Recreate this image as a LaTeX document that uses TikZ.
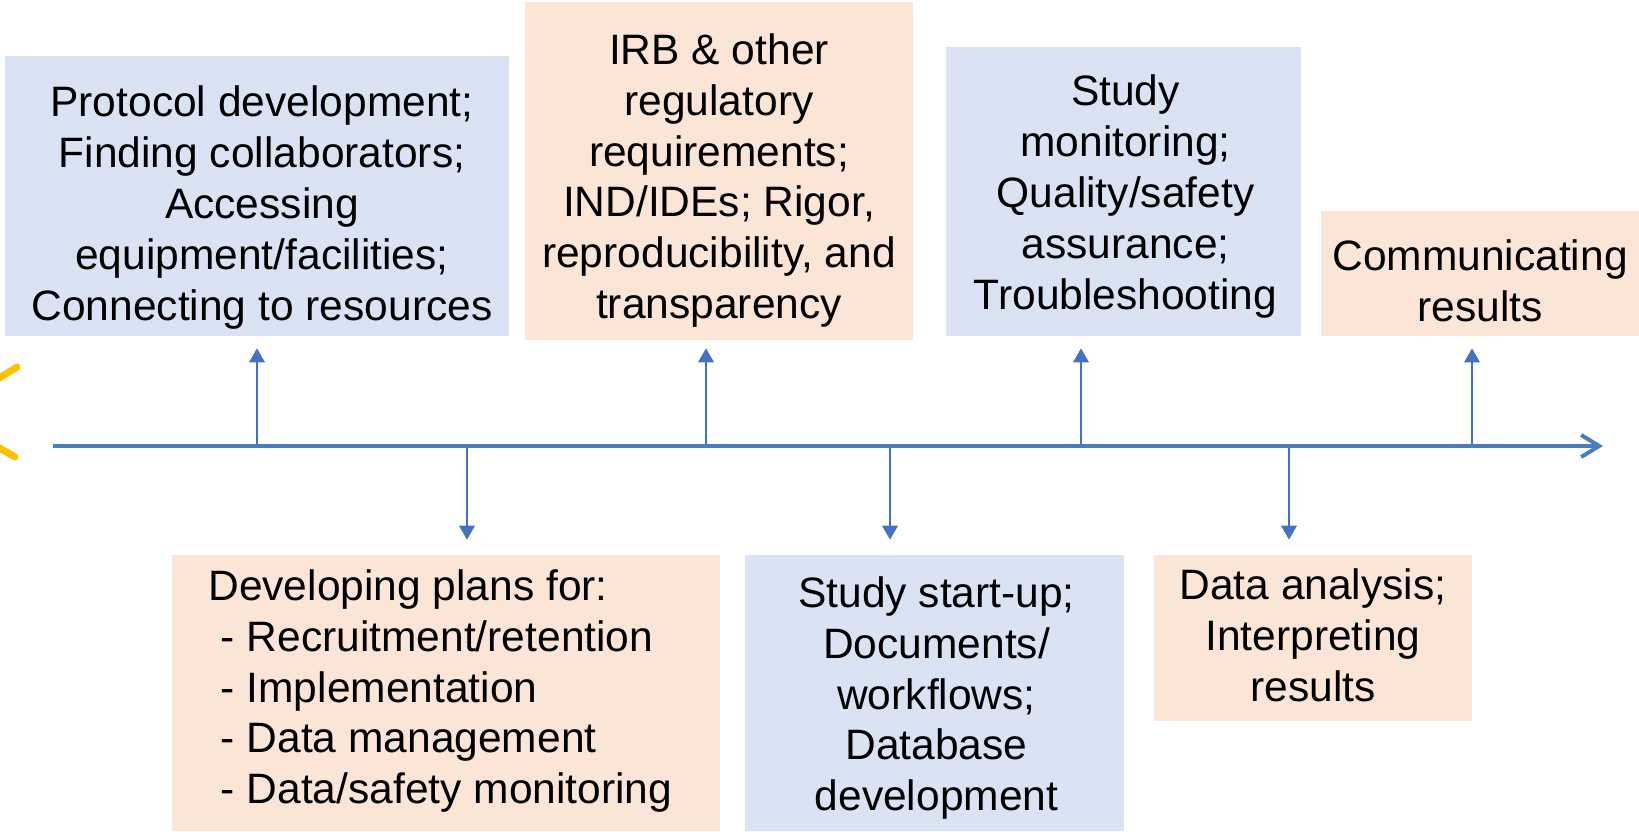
\documentclass[tikz,border=0pt]{standalone}
\usepackage{fontspec}
\setmainfont{Liberation Sans}
\usetikzlibrary{arrows.meta}

\definecolor{boxblue}{HTML}{DAE3F3}
\definecolor{boxpeach}{HTML}{FBE5D6}
\definecolor{arrowblue}{HTML}{4472C4}
\definecolor{lineblue}{HTML}{4A7EBB}
\definecolor{sunyellow}{HTML}{FFC000}

\tikzset{
  box/.style={inner sep=0pt},
  stage/.style={inner sep=0pt,align=center,text=black,font=\fontsize{24.2}{29}\selectfont},
  tick/.style={arrowblue,line width=0.04cm}
}

\begin{document}
\begin{tikzpicture}[x=0.02cm,y=-0.02cm,>={Triangle[length=0.28cm,width=0.31cm]}]

      \useasboundingbox (0,0) rectangle (1639,835);

      % bits of a sun at the left edge
      \draw[sunyellow,line width=0.14cm,line cap=round] (-4,380) -- (17,367);
      \draw[sunyellow,line width=0.14cm,line cap=round] (-4,446) -- (15,457);

      % boxes above the line
      \node[box,fill=boxblue,minimum width=10.08cm,minimum height=5.6cm] (prot) at (257,196){};
      \node[box,fill=boxpeach,minimum width=7.76cm,minimum height=6.76cm] (irb) at (719,171){};
      \node[box,fill=boxblue,minimum width=7.1cm,minimum height=5.78cm] (mon) at (1123.5,191.5){};
      \node[box,fill=boxpeach,minimum width=6.36cm,minimum height=2.5cm] (comm) at (1480,273.5){};

      \node[stage] (prot-t) at ([xshift=0.1cm,yshift=-0.23cm]prot.center){Protocol development;\\Finding collaborators;\\Accessing\\equipment/facilities;\\Connecting to resources};
      \node[stage] (irb-t) at ([yshift=-0.19cm]irb.center){IRB \& other\\regulatory\\requirements;\\IND/IDEs; Rigor,\\reproducibility, and\\transparency};
      \node[stage] (mon-t) at ([xshift=0.04cm,yshift=-0.1cm]mon.center){Study\\monitoring;\\Quality/safety\\assurance;\\Troubleshooting};
      \node[stage] (comm-t) at ([yshift=-0.15cm]comm.center){Communicating\\results};

      % boxes below the line
      \node[box,fill=boxpeach,minimum width=10.96cm,minimum height=5.52cm] (plan) at (446,693){};
      \node[box,fill=boxblue,minimum width=7.58cm,minimum height=5.52cm] (start) at (934.5,693){};
      \node[box,fill=boxpeach,minimum width=6.36cm,minimum height=3.32cm] (anal) at (1313,638){};

      \node[stage,align=left] (plan-t) at ([xshift=-0.115cm,yshift=0.04cm]plan.center){Developing plans for:\\\hspace*{0.25cm}- Recruitment/retention\\\hspace*{0.25cm}- Implementation\\\hspace*{0.25cm}- Data management\\\hspace*{0.25cm}- Data/safety monitoring};
      \node[stage] (start-t) at ([xshift=0.04cm,yshift=-0.1cm]start.center){Study start-up;\\Documents/\\workflows;\\Database\\development};
      \node[stage] (anal-t) at ([yshift=0.05cm]anal.center){Data analysis;\\Interpreting\\results};

      \coordinate (s) at (53,446);
      \coordinate (e) at (1603,446);
      \coordinate (t1) at (257,446);
      \coordinate (t2) at (467,446);
      \coordinate (t3) at (706,446);
      \coordinate (t4) at (890,446);
      \coordinate (t5) at (1081,446);
      \coordinate (t6) at (1289,446);
      \coordinate (t7) at (1472,446);

      \draw[tick,->] (t1) -- ([yshift=-0.24cm]t1 |- prot.south);
      \draw[tick,->] (t3) -- ([yshift=-0.16cm]t3 |- irb.south);
      \draw[tick,->] (t5) -- ([yshift=-0.24cm]t5 |- mon.south);
      \draw[tick,->] (t7) -- ([yshift=-0.24cm]t7 |- comm.south);
      \draw[tick,->] (t2) -- ([yshift=0.3cm]t2 |- plan.north);
      \draw[tick,->] (t4) -- ([yshift=0.3cm]t4 |- start.north);
      \draw[tick,->] (t6) -- ([yshift=0.3cm]t6 |- anal.north);

      \draw[lineblue,line width=0.08cm,-{Straight Barb[length=0.36cm,width=0.44cm]}] (s) -- (e);
    \end{tikzpicture}
\end{document}
